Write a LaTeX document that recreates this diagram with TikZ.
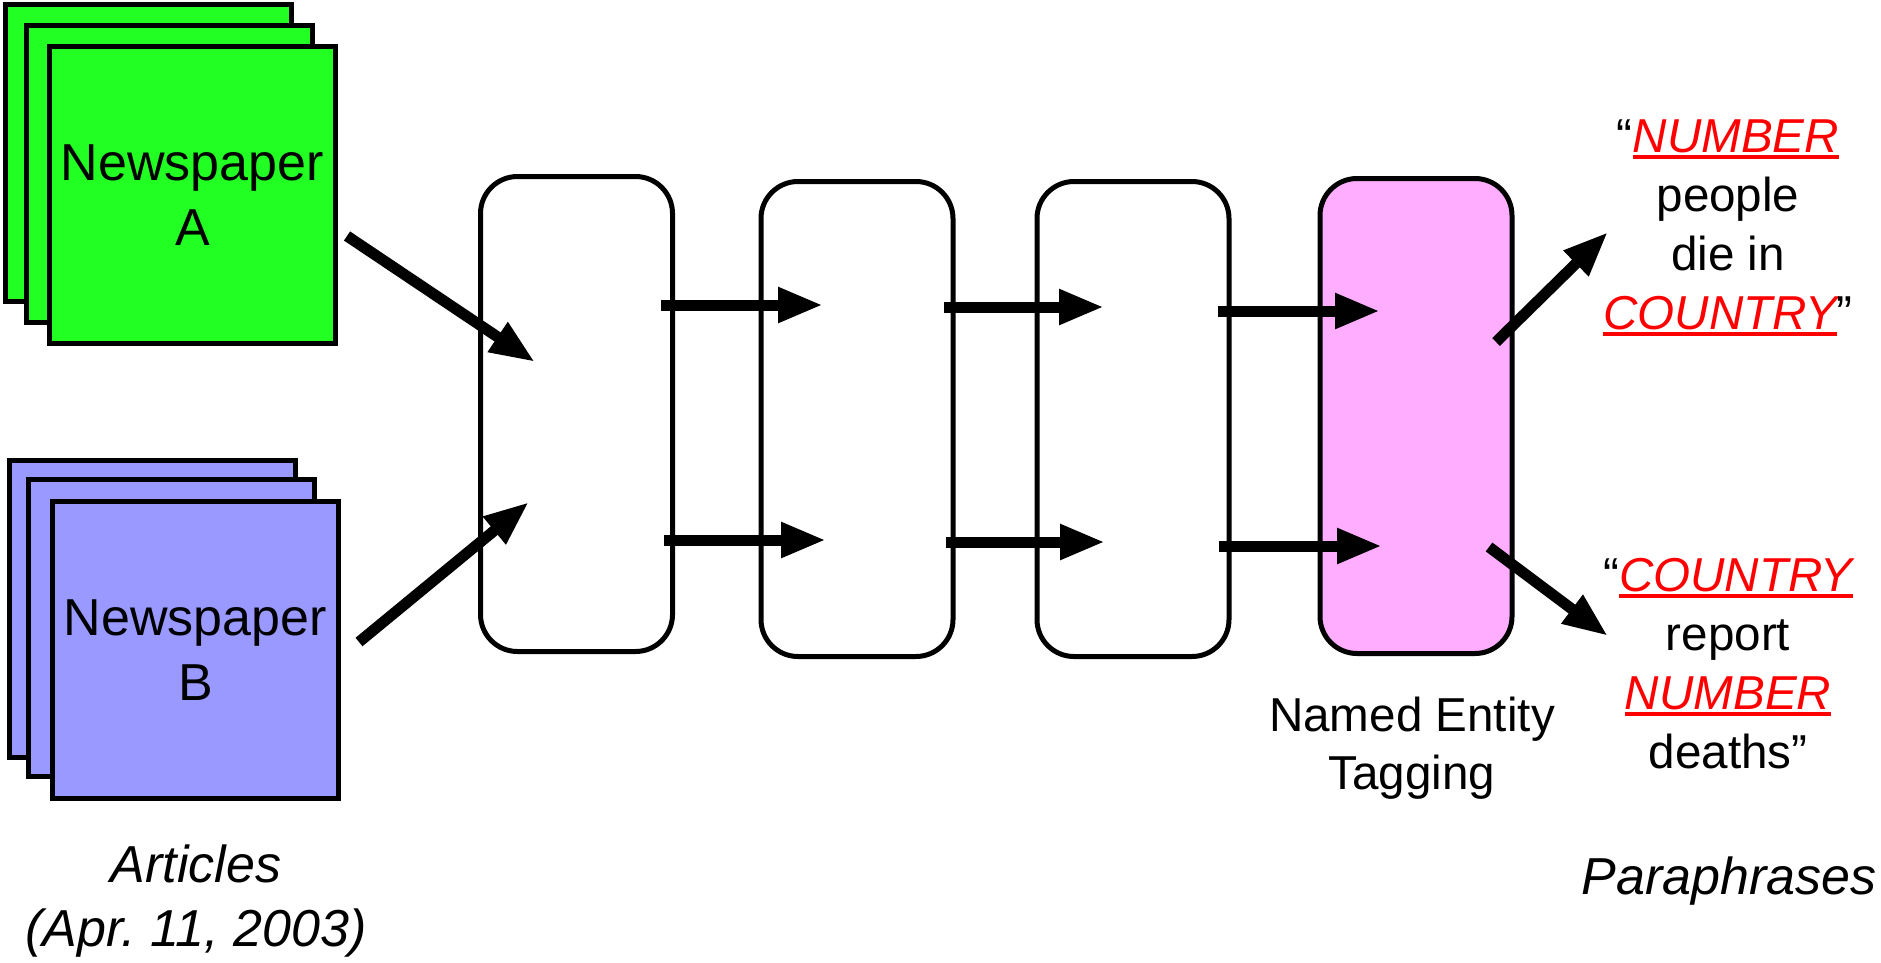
\documentclass[tikz,border=0pt]{standalone}
\usepackage{fontspec}
\setmainfont{Liberation Sans}
\usetikzlibrary{arrows.meta}
\frenchspacing
\definecolor{paperA}{RGB}{34,255,34}
\definecolor{paperB}{RGB}{153,153,255}
\definecolor{nerfill}{RGB}{255,174,255}
\definecolor{tagred}{RGB}{255,0,0}
% red italic placeholder with a thick red underline
\newcommand\tagword[1]{\textcolor{tagred}{\setbox0\hbox{\itshape #1}\rlap{\rule[-7pt]{\wd0}{4pt}}\box0}}
\begin{document}
\begin{tikzpicture}[x=1pt,y=-1pt,
  sheet/.style={draw=black, line width=5pt, minimum width=286pt, minimum height=297pt,
    inner sep=0pt, align=center, font=\fontsize{52}{65}\selectfont},
  stage/.style={draw=black, line width=5pt, rounded corners=37pt,
    minimum width=192pt, minimum height=475pt, fill=white},
  flow/.style={line width=11pt, -{Triangle[length=45pt,width=33pt]}},
  caption/.style={align=center, inner sep=0pt, font=\fontsize{47.6}{58}\selectfont},
  phrase/.style={align=center, inner sep=0pt, font=\fontsize{47.6}{59}\selectfont},
  big/.style={align=center, inner sep=0pt, font=\fontsize{52}{64}\selectfont\itshape}]
\useasboundingbox (0,0) rectangle (1881,962);

% stack of articles from newspaper A
\node[sheet, fill=paperA] (a3) at (148.5,153) {};
\node[sheet, fill=paperA] (a2) at (169.5,173.5) {};
\node[sheet, fill=paperA] (a1) at (192.5,195) {Newspaper\\A};

% stack of articles from newspaper B
\node[sheet, fill=paperB] (b3) at (152,609) {};
\node[sheet, fill=paperB] (b2) at (171.5,628) {};
\node[sheet, fill=paperB] (b1) at (195.5,650) {Newspaper\\B};

% processing stages
\node[stage] (s1) at (576.5,414) {};
\node[stage] (s2) at (857,419) {};
\node[stage] (s3) at (1133,419) {};
\node[stage, fill=nerfill] (s4) at (1416,416) {};

% arrow end points
\coordinate (aOut) at (347,236);  \coordinate (s1inA) at (535,362);
\coordinate (bOut) at (359,642);  \coordinate (s1inB) at (529,502);
\coordinate (s1outA) at (661,305);  \coordinate (s2inA) at (823,305);
\coordinate (s2outA) at (944,307);  \coordinate (s3inA) at (1104,307);
\coordinate (s3outA) at (1218,311); \coordinate (s4inA) at (1380,311);
\coordinate (s1outB) at (664,540);  \coordinate (s2inB) at (826,540);
\coordinate (s2outB) at (946,542);  \coordinate (s3inB) at (1105,542);
\coordinate (s3outB) at (1219,546); \coordinate (s4inB) at (1382,546);
\coordinate (s4outA) at (1496,342); \coordinate (pTop) at (1608,232);
\coordinate (s4outB) at (1489,547); \coordinate (pBot) at (1608,636);

\draw[flow] (aOut) -- (s1inA);
\draw[flow] (bOut) -- (s1inB);
\draw[flow] (s1outA) -- (s2inA);
\draw[flow] (s2outA) -- (s3inA);
\draw[flow] (s3outA) -- (s4inA);
\draw[flow] (s1outB) -- (s2inB);
\draw[flow] (s2outB) -- (s3inB);
\draw[flow] (s3outB) -- (s4inB);
\draw[flow] (s4outA) -- (pTop);
\draw[flow] (s4outB) -- (pBot);

% labels
\node[caption] (ner) at (1412,748.5) {Named Entity\\Tagging};
\node[phrase] (para1) at (1728,228) {“\tagword{NUMBER}\\people\\die in\\\tagword{COUNTRY}”};
\node[phrase] (para2) at (1728,663.5) {“\tagword{COUNTRY}\\report\\\tagword{NUMBER}\\deaths”};
\node[big] (articles) at (196,901) {Articles\\(Apr. 11, 2003)};
\node[big, anchor=base] (paras) at (1729,894) {Paraphrases};
\end{tikzpicture}
\end{document}
